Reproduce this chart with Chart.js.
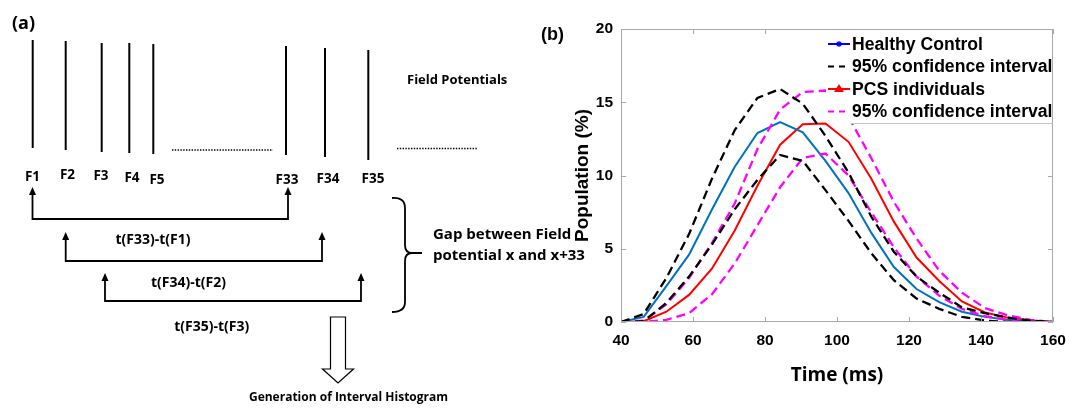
<!DOCTYPE html>
<html>
<head>
<meta charset="utf-8">
<script src="https://cdn.jsdelivr.net/npm/chart.js@4.4.0/dist/chart.umd.min.js"></script>
<style>
    html, body { margin: 0; padding: 0; background: #fff; }
    #wrap { position: relative; width: 1083px; height: 410px; overflow: hidden; }
    #diagram { position: absolute; left: 0; top: 0; }
    #chartBox { position: absolute; left: 540px; top: 0; width: 543px; height: 410px; }
</style>
</head>
<body>
<div id="wrap">
    <canvas id="diagram" width="1083" height="410"></canvas>
    <div id="chartBox"><canvas id="histChart" width="543" height="410"></canvas></div>
</div>
<script>
// Interval histogram (b)
var timeMs = [40, 46.3, 52.6, 58.9, 65.3, 71.6, 77.9, 84.2, 90.5, 96.8,
              103.2, 109.5, 115.8, 122.1, 128.4, 134.7, 141.1, 147.4, 153.7, 160];
var healthy     = [0, 0.35, 2.45, 4.6, 7.7, 10.6, 12.9, 13.65, 12.95, 11.0,
                   8.8, 6.1, 3.75, 2.25, 1.35, 0.7, 0.35, 0.15, 0.05, 0];
var healthyHigh = [0, 0.55, 3.0, 6.0, 9.8, 13.1, 15.3, 15.9, 14.9, 12.7,
                   10.2, 7.2, 4.8, 3.1, 2.0, 1.0, 0.6, 0.3, 0.1, 0];
var healthyLow  = [0, 0.05, 1.3, 3.1, 5.3, 7.7, 9.7, 11.4, 11.0, 9.0,
                   6.9, 4.7, 2.85, 1.6, 0.9, 0.35, 0.1, 0, 0, 0];
var pcs         = [0, 0.05, 0.7, 1.85, 3.65, 6.25, 9.3, 12.1, 13.5, 13.55,
                   12.3, 9.8, 6.85, 4.4, 2.8, 1.4, 0.65, 0.3, 0.1, 0];
var pcsHigh     = [0, 0.1, 1.2, 3.0, 5.4, 8.1, 11.8, 14.5, 15.7, 15.8,
                   14.0, 11.2, 8.2, 5.7, 3.5, 2.0, 0.95, 0.45, 0.15, 0];
var pcsLow      = [0, 0, 0.15, 0.6, 1.9, 4.0, 6.6, 9.2, 11.2, 11.5,
                   10.0, 7.5, 5.1, 3.1, 1.8, 0.9, 0.4, 0.15, 0.05, 0];
var legendLabels = ['Healthy Control', '95% confidence interval', 'PCS individuals', '95% confidence interval'];

var AXIS_FONT = '"Liberation Sans", Arial, sans-serif';

function toPoints(values) {
    return values.map(function (v, i) { return {x: timeMs[i], y: v}; });
}

// MATLAB style box, inward ticks and the legend
var matlabBox = {
    id: 'matlabBox',
    afterDraw: function (chart) {
        var ctx = chart.ctx;
        var a = chart.chartArea;
        var xs = chart.scales.x, ys = chart.scales.y;
        ctx.save();
        ctx.strokeStyle = '#a8a8a8';
        ctx.lineWidth = 1;
        ctx.strokeRect(a.left + 0.5, a.top + 0.5, a.right - a.left - 1, a.bottom - a.top - 1);
        ctx.beginPath();
        xs.ticks.forEach(function (t) {
            var px = Math.round(xs.getPixelForValue(t.value)) + 0.5;
            ctx.moveTo(px, a.bottom); ctx.lineTo(px, a.bottom - 5);
            ctx.moveTo(px, a.top); ctx.lineTo(px, a.top + 5);
        });
        ys.ticks.forEach(function (t) {
            var py = Math.round(ys.getPixelForValue(t.value)) + 0.5;
            ctx.moveTo(a.left, py); ctx.lineTo(a.left + 5, py);
            ctx.moveTo(a.right, py); ctx.lineTo(a.right - 5, py);
        });
        ctx.stroke();

        // legend
        var boxLeft = 286, boxTop = a.top + 1, boxBottom = 123;
        ctx.fillStyle = '#fff';
        ctx.fillRect(boxLeft, boxTop, a.right - 1 - boxLeft, boxBottom - boxTop);
        ctx.strokeStyle = '#c4c4c4';
        ctx.beginPath();
        ctx.moveTo(311, boxBottom + 0.5); ctx.lineTo(a.right, boxBottom + 0.5);
        ctx.stroke();
        var rowsY = [44, 66.5, 89, 111.5];
        var styles = [
            {color: '#0000ff', dash: [], marker: 'star'},
            {color: '#000000', dash: [6, 5], marker: null},
            {color: '#ff0000', dash: [], marker: 'tri'},
            {color: '#ff00ff', dash: [6, 5], marker: null}
        ];
        var x0 = 288, x1 = 310;
        ctx.font = 'bold 17.6px ' + AXIS_FONT;
        ctx.textBaseline = 'middle';
        rowsY.forEach(function (y, i) {
            var s = styles[i];
            ctx.strokeStyle = s.color;
            ctx.fillStyle = s.color;
            ctx.lineWidth = 2;
            ctx.setLineDash(s.dash);
            ctx.beginPath();
            ctx.moveTo(x0, y); ctx.lineTo(x1, y);
            ctx.stroke();
            ctx.setLineDash([]);
            var cx = (x0 + x1) / 2;
            if (s.marker === 'star') {
                ctx.lineWidth = 1.2;
                ctx.beginPath();
                ctx.moveTo(cx - 3, y); ctx.lineTo(cx + 3, y);
                ctx.moveTo(cx, y - 3); ctx.lineTo(cx, y + 3);
                ctx.moveTo(cx - 2.2, y - 2.2); ctx.lineTo(cx + 2.2, y + 2.2);
                ctx.moveTo(cx - 2.2, y + 2.2); ctx.lineTo(cx + 2.2, y - 2.2);
                ctx.stroke();
            } else if (s.marker === 'tri') {
                ctx.beginPath();
                ctx.moveTo(cx, y - 5); ctx.lineTo(cx + 5, y + 3); ctx.lineTo(cx - 5, y + 3);
                ctx.closePath();
                ctx.fill();
            }
            ctx.fillStyle = '#000';
            ctx.fillText(legendLabels[i], 312, y + 1);
        });
        ctx.font = 'bold 18px ' + AXIS_FONT;
        ctx.textBaseline = 'alphabetic';
        ctx.fillText('(b)', 1, 40);
        ctx.restore();
    }
};

function lineSet(label, values, color, dash) {
    return {
        label: label,
        data: toPoints(values),
        borderColor: color,
        backgroundColor: color,
        borderWidth: dash.length ? 2.3 : 2,
        borderDash: dash,
        pointRadius: 0,
        tension: 0,
        fill: false
    };
}

new Chart(document.getElementById('histChart').getContext('2d'), {
    type: 'line',
    data: {
        datasets: [
            lineSet('95% confidence interval', healthyHigh, '#000000', [9, 5]),
            lineSet('95% confidence interval', healthyLow, '#000000', [9, 5]),
            lineSet('95% confidence interval', pcsHigh, '#ff00ff', [9, 5]),
            lineSet('95% confidence interval', pcsLow, '#ff00ff', [9, 5]),
            lineSet('Healthy Control', healthy, '#0072bd', []),
            lineSet('PCS individuals', pcs, '#ff0000', [])
        ]
    },
    options: {
        responsive: false,
        animation: false,
        layout: { padding: { top: 29, right: 30, left: 0, bottom: 0 } },
        plugins: { legend: { display: false }, tooltip: { enabled: false } },
        scales: {
            x: {
                type: 'linear',
                min: 40, max: 160,
                afterFit: function (scale) { scale.height = 88; },
                grid: { display: false, drawTicks: false },
                border: { display: false },
                ticks: {
                    stepSize: 20, padding: 9, color: '#000',
                    font: { family: AXIS_FONT, size: 15.5, weight: 'bold' }
                },
                title: {
                    display: true, text: 'Time (ms)', color: '#000',
                    padding: { top: 0, bottom: 23 },
                    font: { family: '"Open Sans", Lato, sans-serif', size: 19, weight: 'bold' }
                }
            },
            y: {
                min: 0, max: 20,
                afterFit: function (scale) { scale.width = 81; },
                grid: { display: false, drawTicks: false },
                border: { display: false },
                ticks: {
                    stepSize: 5, padding: 8, color: '#000',
                    font: { family: AXIS_FONT, size: 15.5, weight: 'bold' }
                },
                title: {
                    display: true, text: 'Population (%)', color: '#000',
                    padding: { top: 31, bottom: 0 },
                    font: { family: AXIS_FONT, size: 19, weight: 'bold' }
                }
            }
        }
    },
    plugins: [matlabBox]
});

// Schematic (a)
var fieldLabels = ['F1', 'F2', 'F3', 'F4', 'F5', 'F33', 'F34', 'F35'];
var gapLabels = ['t(F33)-t(F1)', 't(F34)-t(F2)', 't(F35)-t(F3)'];

function drawDiagram() {
    var ctx = document.getElementById('diagram').getContext('2d');
    var font = '"Open Sans", "Noto Sans", sans-serif';
    ctx.fillStyle = '#000';
    ctx.strokeStyle = '#000';
    ctx.lineCap = 'butt';

    ctx.font = 'bold 18px ' + font;
    ctx.textBaseline = 'alphabetic';
    ctx.fillText('(a)', 12, 29);

    // field potential spikes
    var spikes = [[32.7, 40, 148], [65.7, 41, 150], [101.7, 43, 152], [129.3, 43, 153],
                  [153.3, 44, 154], [286, 46, 155], [325, 48, 157], [368.3, 50, 160]];
    ctx.lineWidth = 2;
    spikes.forEach(function (s) {
        ctx.beginPath(); ctx.moveTo(s[0], s[1]); ctx.lineTo(s[0], s[2]); ctx.stroke();
    });

    // dotted continuation
    ctx.lineWidth = 1.5;
    ctx.setLineDash([1.4, 1.4]);
    ctx.beginPath();
    ctx.moveTo(172, 150); ctx.lineTo(273, 150);
    ctx.moveTo(397, 148.5); ctx.lineTo(478, 148.5);
    ctx.stroke();
    ctx.setLineDash([]);

    var labelPos = [[32.5, 177], [67.5, 175.5], [101, 176], [132, 178], [157, 180],
                    [287, 180], [328, 179], [373, 179]];
    ctx.font = 'bold 13.5px ' + font;
    ctx.textAlign = 'center';
    ctx.textBaseline = 'middle';
    labelPos.forEach(function (p, i) { ctx.fillText(fieldLabels[i], p[0], p[1]); });

    // gap arrows
    var gaps = [[32.5, 288, 187, 219], [65.7, 322, 232, 261], [105, 361, 273, 301]];
    gaps.forEach(function (g) {
        ctx.lineWidth = 1.8;
        ctx.beginPath();
        ctx.moveTo(g[0], g[2] + 6); ctx.lineTo(g[0], g[3]);
        ctx.lineTo(g[1], g[3]); ctx.lineTo(g[1], g[2] + 6);
        ctx.stroke();
        [g[0], g[1]].forEach(function (x) {
            ctx.beginPath();
            ctx.moveTo(x, g[2]); ctx.lineTo(x + 3.5, g[2] + 8); ctx.lineTo(x - 3.5, g[2] + 8);
            ctx.closePath(); ctx.fill();
        });
    });
    var gapText = [[153, 240], [188.5, 283], [211.7, 327]];
    ctx.font = 'bold 14px ' + font;
    gapText.forEach(function (p, i) { ctx.fillText(gapLabels[i], p[0], p[1]); });

    // curly brace
    ctx.lineWidth = 1.8;
    ctx.beginPath();
    ctx.moveTo(392, 198);
    ctx.quadraticCurveTo(405, 197, 405, 208);
    ctx.lineTo(405, 245);
    ctx.quadraticCurveTo(405, 253, 412, 253);
    ctx.lineTo(422, 253);
    ctx.moveTo(412, 253);
    ctx.quadraticCurveTo(405, 253, 405, 261);
    ctx.lineTo(405, 302);
    ctx.quadraticCurveTo(405, 312, 392, 312);
    ctx.stroke();

    ctx.textAlign = 'left';
    ctx.font = 'bold 13px ' + font;
    ctx.fillText('Field Potentials', 407, 80);
    ctx.font = 'bold 15px ' + font;
    ctx.fillText('Gap between Field', 433, 235);
    ctx.fillText('potential x and x+33', 433, 256);

    // hollow arrow
    ctx.lineWidth = 1.2;
    ctx.beginPath();
    ctx.moveTo(330.5, 317); ctx.lineTo(345.5, 317); ctx.lineTo(345.5, 369);
    ctx.lineTo(353.5, 369); ctx.lineTo(338, 383); ctx.lineTo(322.5, 369);
    ctx.lineTo(330.5, 369); ctx.closePath();
    ctx.stroke();

    ctx.textAlign = 'center';
    ctx.font = 'bold 12px ' + font;
    ctx.fillText('Generation of Interval Histogram', 348.5, 398);
}
drawDiagram();
</script>
</body>
</html>
